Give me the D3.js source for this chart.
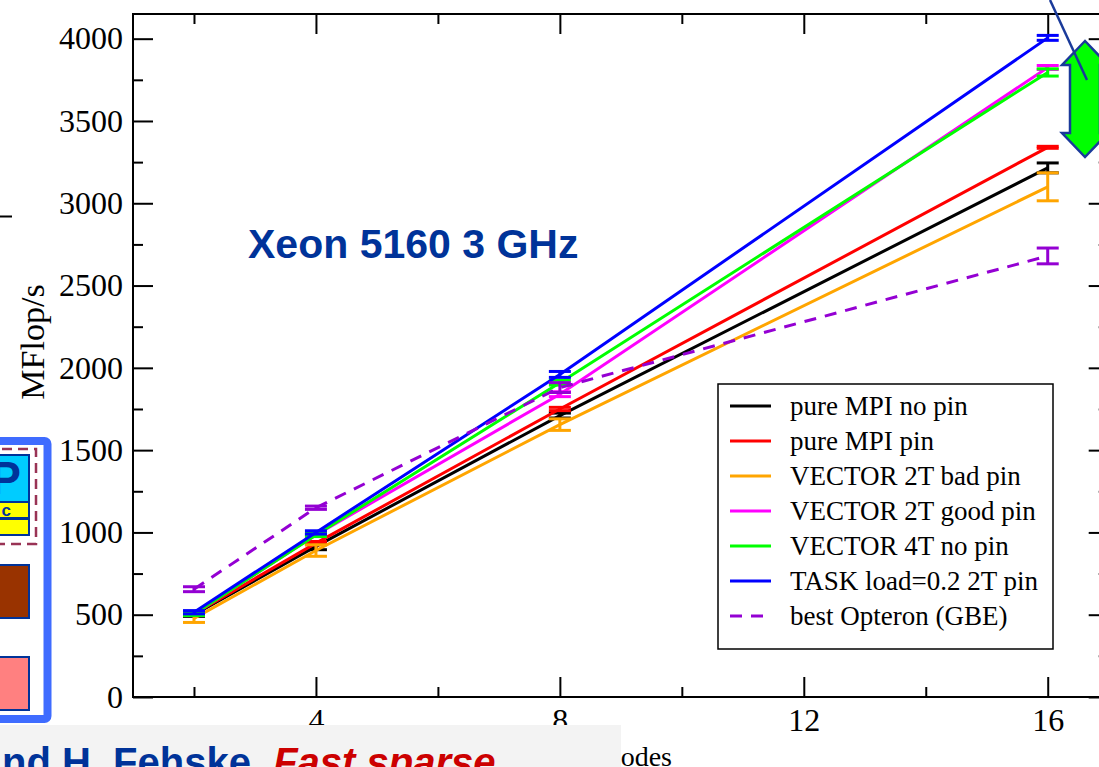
<!DOCTYPE html>
<html>
<head>
<meta charset="utf-8">
<script src="https://cdn.jsdelivr.net/npm/d3@7"></script>
<style>
  body { margin: 0; background: #fff; }
  svg { display: block; }
</style>
</head>
<body>
<script>
// values (MFlop/s vs number of nodes)
var nodes = [2, 4, 8, 16];

var mpiNoPin      = [500, 915, 1710, 3215];
var mpiNoPinErr   = [10, 20, 15, 30];
var mpiPin        = [505, 935, 1750, 3340];
var mpiPinErr     = [5, 10, 10, 6];
var vec2tBad      = [478, 890, 1655, 3100];
var vec2tBadErr   = [25, 35, 35, 85];
var vec2tGood     = [505, 985, 1840, 3825];
var vec2tGoodErr  = [10, 10, 15, 12];
var vec4tNoPin    = [505, 985, 1910, 3795];
var vec4tNoPinErr = [10, 10, 15, 22];
var taskLoad      = [515, 1000, 1960, 4005];
var taskLoadErr   = [10, 10, 18, 15];
var opteron       = [655, 1150, 1880, 2680];
var opteronErr    = [15, 10, 30, 48];

var seriesNames = ["pure MPI no pin", "pure MPI pin", "VECTOR 2T bad pin",
  "VECTOR 2T good pin", "VECTOR 4T no pin", "TASK load=0.2 2T pin", "best Opteron (GBE)"];

var yTicks = [0, 500, 1000, 1500, 2000, 2500, 3000, 3500, 4000];
var yMinor = [250, 750, 1250, 1750, 2250, 2750, 3250, 3750];
var xTicks = [4, 8, 12, 16];
var xMinor = [2, 6, 10, 14];

var colors = ["#000000", "#ff0000", "#ffa500", "#ff00ff", "#00ff00", "#0000ff", "#9400d3"];
var dashes = [null, null, null, null, null, null, "12,9"];

var values = [mpiNoPin, mpiPin, vec2tBad, vec2tGood, vec4tNoPin, taskLoad, opteron];
var errors = [mpiNoPinErr, mpiPinErr, vec2tBadErr, vec2tGoodErr, vec4tNoPinErr, taskLoadErr, opteronErr];

var series = seriesNames.map(function(name, i) {
  return {
    name: name, color: colors[i], dash: dashes[i],
    points: nodes.map(function(n, j) { return { n: n, v: values[i][j], e: errors[i][j] }; })
  };
});

var W = 1099, H = 767;
// plot frame (right edge lies just outside the picture)
var fL = 133, fR = 1108.7, fT = 14, fB = 697;

var svg = d3.select("body").append("svg").attr("width", W).attr("height", H);

var x = d3.scaleLinear().domain([1, 17]).range([fL, fR]);
var y = d3.scaleLinear().domain([0, 4150]).range([fB, fT]);

var serif = "'Liberation Serif', 'Times New Roman', serif";
var sans = "'Liberation Sans', Arial, sans-serif";

// ---- slide decoration on the left (partly cut off) ----
var deco = svg.append("g");
deco.append("line").attr("x1", 0).attr("x2", 12).attr("y1", 216.5).attr("y2", 216.5)
  .attr("stroke", "#000").attr("stroke-width", 2);
deco.append("rect").attr("x", -30).attr("y", 441).attr("width", 77.5).attr("height", 278).attr("rx", 3)
  .attr("fill", "#fff").attr("stroke", "#3f6cff").attr("stroke-width", 8);
deco.append("rect").attr("x", -30).attr("y", 449).attr("width", 66).attr("height", 95)
  .attr("fill", "none").attr("stroke", "#993355").attr("stroke-width", 2.5).attr("stroke-dasharray", "10,6");
deco.append("rect").attr("x", -30).attr("y", 455).attr("width", 59).attr("height", 47)
  .attr("fill", "#00ccff").attr("stroke", "#003399").attr("stroke-width", 2);
deco.append("text").attr("x", 21).attr("y", 494).attr("text-anchor", "end")
  .attr("font-family", sans).attr("font-weight", "bold").attr("font-size", 46).attr("fill", "#003399").text("P");
deco.append("rect").attr("x", -30).attr("y", 502).attr("width", 59).attr("height", 16)
  .attr("fill", "#ffff00").attr("stroke", "#003399").attr("stroke-width", 2);
deco.append("text").attr("x", 11).attr("y", 516).attr("text-anchor", "end")
  .attr("font-family", sans).attr("font-weight", "bold").attr("font-size", 17).attr("fill", "#003399").text("c");
deco.append("rect").attr("x", -30).attr("y", 519).attr("width", 59).attr("height", 16)
  .attr("fill", "#ffff00").attr("stroke", "#003399").attr("stroke-width", 2);
deco.append("rect").attr("x", -30).attr("y", 565).attr("width", 59).attr("height", 53)
  .attr("fill", "#993300").attr("stroke", "#003399").attr("stroke-width", 2);
deco.append("rect").attr("x", -30).attr("y", 657).attr("width", 59).attr("height", 53)
  .attr("fill", "#ff8080").attr("stroke", "#003399").attr("stroke-width", 2);

// ---- axes ----
function styleAxis(g) {
  g.select(".domain").remove();
  g.selectAll(".tick line").attr("stroke", "#000").attr("stroke-width", 2);
  g.selectAll("text").attr("font-family", serif).attr("font-size", 32).attr("fill", "#000");
}

svg.append("g").attr("transform", "translate(" + fL + ",0)")
  .call(d3.axisLeft(y).tickValues(yTicks).tickFormat(d3.format("d")).tickSize(-20).tickPadding(10)).call(styleAxis);
svg.append("g").attr("transform", "translate(" + fL + ",0)")
  .call(d3.axisLeft(y).tickValues(yMinor).tickSize(-10).tickFormat("")).call(styleAxis);
svg.append("g").attr("transform", "translate(" + fR + ",0)")
  .call(d3.axisRight(y).tickValues(yTicks).tickSize(-20).tickFormat("")).call(styleAxis);
svg.append("g").attr("transform", "translate(" + fR + ",0)")
  .call(d3.axisRight(y).tickValues(yMinor).tickSize(-10).tickFormat("")).call(styleAxis);

svg.append("g").attr("transform", "translate(0," + fB + ")")
  .call(d3.axisBottom(x).tickValues(xTicks).tickFormat(d3.format("d")).tickSize(-20).tickPadding(11)).call(styleAxis);
svg.append("g").attr("transform", "translate(0," + fB + ")")
  .call(d3.axisBottom(x).tickValues(xMinor).tickSize(-10).tickFormat("")).call(styleAxis);
svg.append("g").attr("transform", "translate(0," + fT + ")")
  .call(d3.axisTop(x).tickValues(xTicks).tickSize(-20).tickFormat("")).call(styleAxis);
svg.append("g").attr("transform", "translate(0," + fT + ")")
  .call(d3.axisTop(x).tickValues(xMinor).tickSize(-10).tickFormat("")).call(styleAxis);

svg.append("rect").attr("x", fL).attr("y", fT).attr("width", fR - fL).attr("height", fB - fT)
  .attr("fill", "none").attr("stroke", "#000").attr("stroke-width", 2);

svg.append("text").attr("transform", "translate(44,342) rotate(-90)").attr("text-anchor", "middle")
  .attr("font-family", serif).attr("font-size", 34).text("MFlop/s");
svg.append("text").attr("x", 672).attr("y", 766).attr("text-anchor", "end")
  .attr("font-family", serif).attr("font-size", 28).text("nodes");

// ---- series ----
var line = d3.line().x(function(d) { return x(d.n); }).y(function(d) { return y(d.v); });
var capW = 11;

var sg = svg.selectAll(".series").data(series).enter().append("g").attr("class", "series");

sg.append("path")
  .attr("d", function(d) { return line(d.points); })
  .attr("fill", "none")
  .attr("stroke", function(d) { return d.color; })
  .attr("stroke-width", 3)
  .attr("stroke-dasharray", function(d) { return d.dash; });

var eb = sg.selectAll(".err").data(function(d) {
  return d.points.map(function(p) { return { p: p, color: d.color }; });
}).enter().append("g").attr("stroke", function(d) { return d.color; }).attr("stroke-width", 3);

eb.append("line")
  .attr("x1", function(d) { return x(d.p.n); }).attr("x2", function(d) { return x(d.p.n); })
  .attr("y1", function(d) { return y(d.p.v - d.p.e); }).attr("y2", function(d) { return y(d.p.v + d.p.e); });
eb.append("line")
  .attr("x1", function(d) { return x(d.p.n) - capW; }).attr("x2", function(d) { return x(d.p.n) + capW; })
  .attr("y1", function(d) { return y(d.p.v + d.p.e); }).attr("y2", function(d) { return y(d.p.v + d.p.e); });
eb.append("line")
  .attr("x1", function(d) { return x(d.p.n) - capW; }).attr("x2", function(d) { return x(d.p.n) + capW; })
  .attr("y1", function(d) { return y(d.p.v - d.p.e); }).attr("y2", function(d) { return y(d.p.v - d.p.e); });

// ---- legend ----
var lg = svg.append("g");
lg.append("rect").attr("x", 718).attr("y", 384).attr("width", 335).attr("height", 265)
  .attr("fill", "#fff").attr("stroke", "#000").attr("stroke-width", 1.5);
var li = lg.selectAll(".li").data(series).enter().append("g")
  .attr("transform", function(d, i) { return "translate(0," + (406 + i * 35) + ")"; });
li.append("line").attr("x1", 730).attr("x2", 771).attr("y1", 0).attr("y2", 0)
  .attr("stroke", function(d) { return d.color; }).attr("stroke-width", 3)
  .attr("stroke-dasharray", function(d) { return d.dash; });
li.append("text").attr("x", 790).attr("y", 9).attr("font-family", serif).attr("font-size", 27)
  .text(function(d) { return d.name; });

// ---- title ----
svg.append("text").attr("x", 248).attr("y", 258).attr("font-family", sans).attr("font-weight", "bold")
  .attr("font-size", 41).attr("fill", "#003399").text("Xeon 5160 3 GHz");

// ---- arrow and callout (top right) ----
svg.append("path")
  .attr("d", "M1085,41 L1062,65 L1070,65 L1070,133 L1062,133 L1085,157 L1108,133 L1100,133 L1100,65 L1108,65 Z")
  .attr("fill", "#00ff00").attr("stroke", "#1a3a9a").attr("stroke-width", 2.5);
svg.append("line").attr("x1", 1050).attr("y1", 0).attr("x2", 1087).attr("y2", 80)
  .attr("stroke", "#1a3a9a").attr("stroke-width", 2.5);

// ---- slide footer ----
svg.append("rect").attr("x", 0).attr("y", 725).attr("width", 621).attr("height", 50).attr("fill", "#f3f3f3");
var ft = svg.append("text").attr("x", 2).attr("y", 776).attr("font-family", sans).attr("font-weight", "bold")
  .attr("font-size", 40);
ft.append("tspan").attr("fill", "#003399").text("nd H. Fehske, ");
ft.append("tspan").attr("fill", "#cc0000").attr("font-style", "italic").text("Fast sparse");
</script>
</body>
</html>
